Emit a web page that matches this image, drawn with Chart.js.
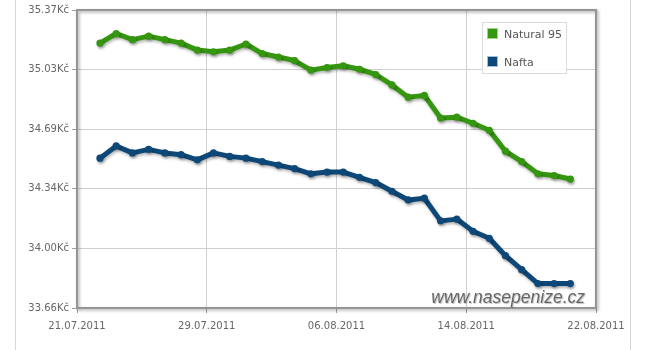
<!DOCTYPE html>
<html>
<head>
<meta charset="utf-8">
<script src="https://cdn.jsdelivr.net/npm/chart.js@4.4.0/dist/chart.umd.min.js"></script>
<style>
  html, body { margin: 0; padding: 0; background: #fff; }
  #wrap { position: relative; width: 652px; height: 350px; overflow: hidden; }
  .side { position: absolute; top: 0; bottom: 0; width: 1px; background: #d6d6d6; }
  #legend {
    position: absolute; left: 482px; top: 22px; width: 83px; height: 50px;
    border: 1px solid #dcdcdc; background: rgba(255,255,255,0.92);
    font: 11px "DejaVu Sans", sans-serif; color: #555;
  }
  #legend .item { position: absolute; left: 4px; height: 14px; line-height: 13px; white-space: nowrap; }
  #legend .swatch {
    display: inline-block; width: 11px; height: 11px; vertical-align: top;
    margin-right: 6px; box-sizing: border-box;
  }
</style>
</head>
<body>
<div id="wrap">
  <div class="side" style="left:15px"></div>
  <div class="side" style="left:630px"></div>
  <canvas id="fuelChart" width="652" height="350"></canvas>
  <div id="legend"></div>
</div>
<script>
// fuel price data (Kč per litre), one reading per day
const dates = [
  '22.07.2011', '23.07.2011', '24.07.2011', '25.07.2011', '26.07.2011',
  '27.07.2011', '28.07.2011', '29.07.2011', '30.07.2011', '31.07.2011',
  '01.08.2011', '02.08.2011', '03.08.2011', '04.08.2011', '05.08.2011',
  '06.08.2011', '07.08.2011', '08.08.2011', '09.08.2011', '10.08.2011',
  '11.08.2011', '12.08.2011', '13.08.2011', '14.08.2011', '15.08.2011',
  '16.08.2011', '17.08.2011', '18.08.2011', '19.08.2011', '20.08.2011'
];
const natural95 = [
  35.18, 35.235, 35.20, 35.22, 35.20, 35.18, 35.14, 35.13, 35.14, 35.175,
  35.12, 35.10, 35.08, 35.025, 35.04, 35.05, 35.03, 35.00, 34.94, 34.87,
  34.88, 34.75, 34.755, 34.72, 34.68, 34.56, 34.50, 34.43, 34.42, 34.40
];
const nafta = [
  34.52, 34.59, 34.55, 34.57, 34.55, 34.54, 34.51, 34.55, 34.53, 34.52,
  34.50, 34.48, 34.46, 34.43, 34.44, 34.44, 34.41, 34.38, 34.33, 34.28,
  34.29, 34.16, 34.17, 34.10, 34.06, 33.96, 33.88, 33.80, 33.80, 33.80
];
const seriesNames = ['Natural 95', 'Nafta'];
const seriesColors = ['#35960f', '#0d4878'];
const swatchBorders = ['#9fd48a', '#9cc0de'];
const xTickLabels = ['21.07.2011', '29.07.2011', '06.08.2011', '14.08.2011', '22.08.2011'];
const yTickLabels = ['33.66Kč', '34.00Kč', '34.34Kč', '34.69Kč', '35.03Kč', '35.37Kč'];
const yMin = 33.66, yMax = 35.37;
const readingHour = 10; // prices are taken during the morning

// day number counted from the first axis label
function dayNum(str) {
  const [d, m, y] = str.split('.').map(Number);
  const [d0, m0, y0] = xTickLabels[0].split('.').map(Number);
  return (Date.UTC(y, m - 1, d) - Date.UTC(y0, m0 - 1, d0)) / 86400000;
}

function toPoints(values) {
  return values.map((v, i) => ({ x: dayNum(dates[i]) + readingHour / 24, y: v }));
}

// html legend
const legendEl = document.getElementById('legend');
seriesNames.forEach((name, i) => {
  const item = document.createElement('div');
  item.className = 'item';
  item.style.top = (5 + i * 27.5) + 'px';
  item.innerHTML = '<span class="swatch" style="background:' + seriesColors[i] +
    ';border:1px solid ' + swatchBorders[i] + '"></span>' + name;
  legendEl.appendChild(item);
});

// grey frame with a soft shadow round the plot
const framePlugin = {
  id: 'frame',
  beforeDatasetsDraw(chart) {
    const { ctx, chartArea: a } = chart;
    ctx.save();
    ctx.shadowColor = 'rgba(0,0,0,0.35)';
    ctx.shadowOffsetX = 1.5;
    ctx.shadowOffsetY = 1.5;
    ctx.shadowBlur = 3;
    ctx.strokeStyle = '#959595';
    ctx.lineWidth = 2;
    ctx.strokeRect(a.left, a.top, a.right - a.left, a.bottom - a.top);
    ctx.restore();
  }
};

// drop shadow under the lines
const lineShadow = {
  id: 'lineShadow',
  beforeDatasetDraw(chart) {
    const ctx = chart.ctx;
    ctx.save();
    ctx.shadowColor = 'rgba(0,0,0,0.28)';
    ctx.shadowOffsetX = 1;
    ctx.shadowOffsetY = 2;
    ctx.shadowBlur = 3;
  },
  afterDatasetDraw(chart) {
    chart.ctx.restore();
  }
};

// site watermark in the corner
const watermark = {
  id: 'watermark',
  afterDatasetsDraw(chart) {
    const { ctx, chartArea: a } = chart;
    ctx.save();
    ctx.font = 'italic 17.5px "Liberation Sans", Arial, sans-serif';
    ctx.fillStyle = '#666';
    ctx.textAlign = 'right';
    ctx.textBaseline = 'alphabetic';
    ctx.shadowColor = 'rgba(0,0,0,0.25)';
    ctx.shadowOffsetX = 1;
    ctx.shadowOffsetY = 1;
    ctx.shadowBlur = 1;
    ctx.fillText('www.nasepenize.cz', a.right - 11, a.bottom - 5);
    ctx.restore();
  }
};

Chart.defaults.font.family = '"DejaVu Sans", sans-serif';
Chart.defaults.font.size = 10;
Chart.defaults.color = '#666';

const ctx = document.getElementById('fuelChart').getContext('2d');
new Chart(ctx, {
  type: 'line',
  data: {
    datasets: [natural95, nafta].map((vals, i) => ({
      label: seriesNames[i],
      data: toPoints(vals),
      borderColor: seriesColors[i],
      backgroundColor: seriesColors[i],
      borderWidth: 5,
      borderJoinStyle: 'round',
      borderCapStyle: 'round',
      pointRadius: 3.6,
      pointBorderWidth: 0,
      pointHoverRadius: 3.6,
      tension: 0
    }))
  },
  options: {
    responsive: false,
    animation: false,
    layout: { padding: { left: 0, top: 10, right: 56, bottom: 0 } },
    plugins: {
      legend: { display: false },
      tooltip: { enabled: false }
    },
    scales: {
      x: {
        type: 'linear',
        min: 0,
        max: dayNum(xTickLabels[xTickLabels.length - 1]),
        afterBuildTicks(scale) {
          scale.ticks = xTickLabels.map(l => ({ value: dayNum(l) }));
        },
        ticks: {
          autoSkip: false,
          maxRotation: 0,
          padding: 7,
          callback: (v, i) => xTickLabels[i]
        },
        grid: { color: '#cfcfcf', tickLength: 5, tickColor: '#a0a0a0' },
        border: { display: false },
        afterFit(scale) { scale.height = 42; }
      },
      y: {
        min: yMin,
        max: yMax,
        afterBuildTicks(scale) {
          const n = yTickLabels.length;
          scale.ticks = yTickLabels.map((l, i) => ({ value: yMin + i * (yMax - yMin) / (n - 1) }));
        },
        ticks: {
          autoSkip: false,
          padding: 3,
          callback: (v, i) => yTickLabels[i]
        },
        grid: { color: '#cfcfcf', tickLength: 5, tickColor: '#a0a0a0' },
        border: { display: false },
        afterFit(scale) { scale.width = 77; }
      }
    }
  },
  plugins: [framePlugin, lineShadow, watermark]
});
</script>
</body>
</html>
